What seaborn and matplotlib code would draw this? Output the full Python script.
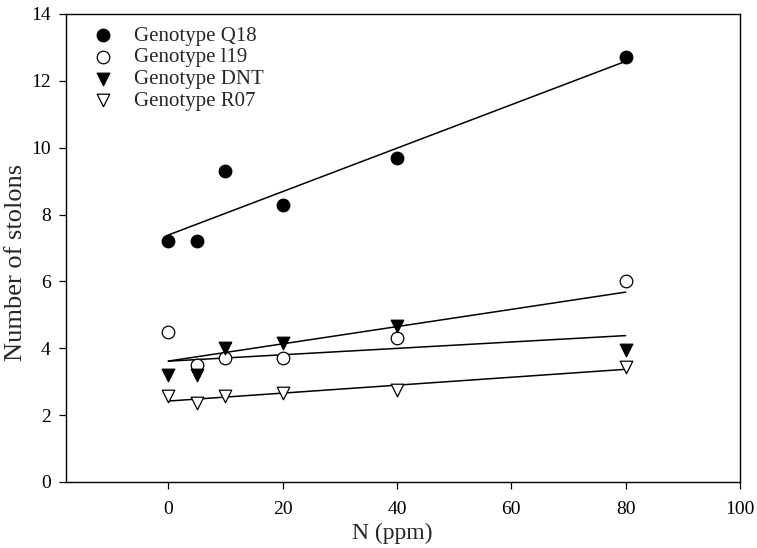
import matplotlib
matplotlib.use("Agg")
import matplotlib.pyplot as plt
import seaborn as sns
import pandas as pd

n_ppm = [0, 5, 10, 20, 40, 80]
q18 = [7.2, 7.2, 9.3, 8.3, 9.7, 12.7]
i19 = [4.5, 3.5, 3.7, 3.7, 4.3, 6.0]
dnt = [3.2, 3.2, 4.0, 4.15, 4.67, 3.95]
r07 = [2.58, 2.37, 2.57, 2.65, 2.75, 3.45]
labels = ["Genotype Q18", "Genotype l19", "Genotype DNT", "Genotype R07"]
x_ticks = [0, 20, 40, 60, 80, 100]
y_ticks = [0, 2, 4, 6, 8, 10, 12, 14]

sns.set_style("ticks")
plt.rcParams["font.family"] = ["Liberation Serif", "DejaVu Serif"]

fig = plt.figure(figsize=(7.57, 5.48), dpi=100)
ax = fig.add_axes([66 / 757, 1 - 482 / 548, 674 / 757, 468 / 548])

styles = [("o", "black"), ("o", "white"), ("v", "black"), ("v", "white")]
for vals, lab, (mk, fc) in zip([q18, i19, dnt, r07], labels, styles):
    df = pd.DataFrame({"x": n_ppm, "y": vals})
    sns.regplot(data=df, x="x", y="y", ax=ax, scatter=False, ci=None,
                truncate=True, line_kws=dict(color="black", lw=1.1))
    sns.scatterplot(data=df, x="x", y="y", ax=ax, marker=mk, s=82,
                    facecolor=fc, edgecolor="black", linewidth=0.9,
                    label=lab, zorder=3)

ax.set_xlim(-17.9, 100)
ax.set_ylim(0, 14)
ax.set_xticks(x_ticks)
ax.set_yticks(y_ticks)
ax.tick_params(direction="out", length=5, width=0.9, labelsize=14,
               colors="black")
ax.tick_params(axis="x", pad=9)
ax.tick_params(axis="y", pad=6)
for sp in ax.spines.values():
    sp.set_visible(True)
    sp.set_linewidth(1.0)
    sp.set_color("black")
ax.set_xlabel("N (ppm)", fontsize=17, labelpad=3)
ax.set_ylabel("Number of stolons", fontsize=19, labelpad=2.5)
ax.xaxis.label.set_x(0.484)
ax.yaxis.label.set_y(0.47)

leg = ax.legend(loc="upper left", frameon=False, fontsize=15,
                handletextpad=1.0, labelspacing=0.1, borderaxespad=0,
                handlelength=1.0, bbox_to_anchor=(0.027, 0.992))

fig.savefig("out.png", dpi=100)
